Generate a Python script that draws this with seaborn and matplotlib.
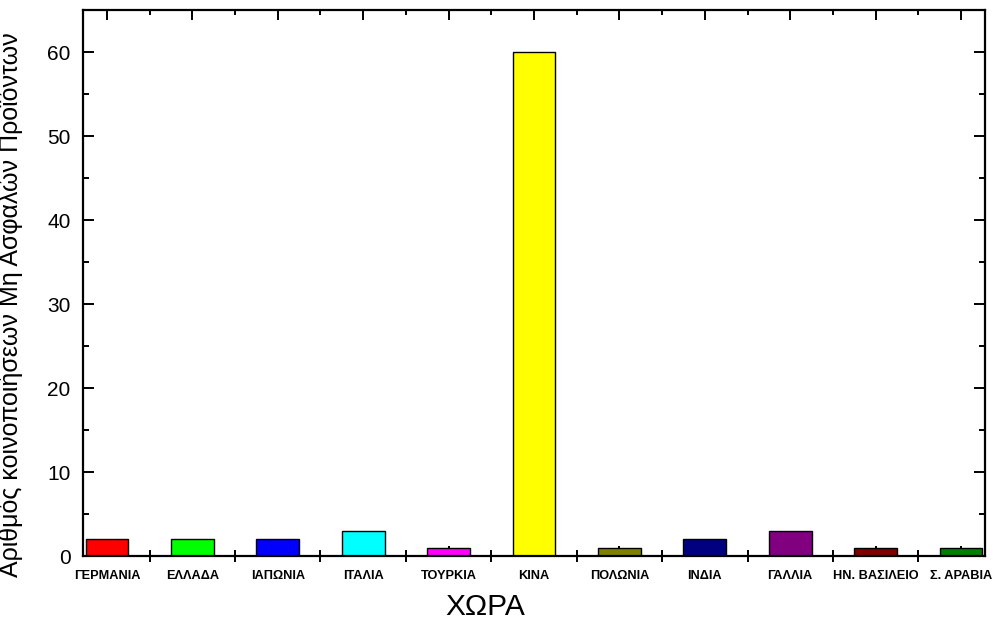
import matplotlib
matplotlib.use("Agg")
import matplotlib.pyplot as plt
from matplotlib.ticker import MultipleLocator, FixedLocator
import seaborn as sns
import pandas as pd

countries = ["ΓΕΡΜΑΝΙΑ", "ΕΛΛΑΔΑ", "ΙΑΠΩΝΙΑ", "ΙΤΑΛΙΑ", "ΤΟΥΡΚΙΑ", "ΚΙΝΑ",
             "ΠΟΛΩΝΙΑ", "ΙΝΔΙΑ", "ΓΑΛΛΙΑ", "ΗΝ. ΒΑΣΙΛΕΙΟ", "Σ. ΑΡΑΒΙΑ"]
notifications = [2, 2, 2, 3, 1, 60, 1, 2, 3, 1, 1]
bar_colors = ["#FF0000", "#00FF00", "#0000FF", "#00FFFF", "#FF00FF", "#FFFF00",
              "#808000", "#000080", "#800080", "#800000", "#008000"]

sns.set_style("ticks")
plt.rcParams["font.family"] = ["Liberation Sans", "DejaVu Sans"]
plt.rcParams["text.color"] = "black"
plt.rcParams["axes.labelcolor"] = "black"
plt.rcParams["xtick.color"] = "black"
plt.rcParams["ytick.color"] = "black"

df = pd.DataFrame({"country": countries, "count": notifications})

fig = plt.figure(figsize=(9.93, 6.24), dpi=100)
ax = fig.add_axes([83 / 993, 1 - 556 / 624, (985 - 83) / 993, (556 - 10) / 624])

sns.barplot(data=df, x="country", y="count", hue="country",
            palette=bar_colors, saturation=1, width=0.5,
            edgecolor="black", linewidth=1.0, legend=False, ax=ax)

ax.set_xlim(-0.28, len(countries) - 1 + 0.28)
ax.set_ylim(0, 65)

for side in ["left", "right", "top", "bottom"]:
    ax.spines[side].set_visible(True)
    ax.spines[side].set_linewidth(1.6)
    ax.spines[side].set_color("black")

# y axis: inward ticks on both sides
ax.yaxis.set_major_locator(MultipleLocator(10))
ax.yaxis.set_minor_locator(MultipleLocator(5))
ax.tick_params(axis="y", which="major", direction="in", length=8, width=1.4,
               left=True, right=True, labelsize=15, pad=9)
ax.tick_params(axis="y", which="minor", direction="in", length=4, width=1.4,
               left=True, right=True)

# x axis: inward ticks at bar centres, crossing ticks between categories
ax.xaxis.set_minor_locator(FixedLocator([i + 0.5 for i in range(len(countries) - 1)]))
ax.tick_params(axis="x", which="major", direction="in", length=7, width=1.4,
               bottom=True, top=True, labelsize=9.2, pad=10)
ax.tick_params(axis="x", which="minor", direction="inout", length=8, width=1.4,
               bottom=True, top=False)
for lbl in ax.get_xticklabels():
    lbl.set_fontweight("bold")

# short inward minor ticks along the top edge
top = ax.secondary_xaxis("top")
top.set_xticks([i + 0.5 for i in range(-1, len(countries))])
top.tick_params(direction="in", length=3.5, width=1.4, labeltop=False)
top.spines["top"].set_visible(False)

ax.set_xlabel("ΧΩΡΑ", fontsize=21.5)
ax.xaxis.set_label_coords(0.446, -0.068)
ax.set_ylabel("Αριθμός κοινοποιήσεων Μη Ασφαλών Προϊόντων", fontsize=18)
ax.yaxis.set_label_coords(-0.066, 0.46)

fig.savefig("out.png", dpi=100)
